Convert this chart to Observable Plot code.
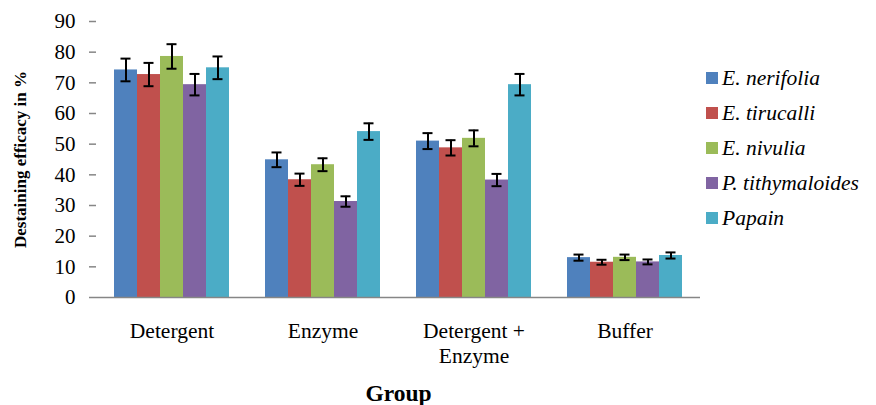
<!DOCTYPE html>
<html>
<head>
<meta charset="utf-8">
<script src="https://cdn.jsdelivr.net/npm/d3@7"></script>
<script src="https://cdn.jsdelivr.net/npm/@observablehq/plot@0.6"></script>
<style>
  html, body { margin: 0; padding: 0; background: #fff; }
  #wrap { position: relative; width: 876px; height: 405px; }
  #legend { position: absolute; left: 706px; top: 0; font-family: "Liberation Serif", "Times New Roman", Times, serif; font-style: italic; font-size: 21.5px; color: #000; }
  .item { position: absolute; left: 0; white-space: nowrap; display: flex; align-items: center; height: 24px; }
  .sw { width: 12px; height: 12px; margin-right: 4px; flex: none; }
  svg text { font-family: "Liberation Serif", "Times New Roman", Times, serif; }
</style>
</head>
<body>
<div id="wrap"><div id="legend"></div></div>
<script>
const groups = ["Detergent", "Enzyme", "Detergent +\nEnzyme", "Buffer"];
const series = ["E. nerifolia", "E. tirucalli", "E. nivulia", "P. tithymaloides", "Papain"];
const colors = ["#4F81BD", "#C0504D", "#9BBB59", "#8064A2", "#4BACC6"];
const yTicks = [0, 10, 20, 30, 40, 50, 60, 70, 80, 90];

const nerifolia = [74.2, 44.9, 51.0, 13.0];
const tirucalli = [72.7, 38.4, 48.8, 11.5];
const nivulia = [78.6, 43.3, 51.9, 13.1];
const tithymaloides = [69.4, 31.3, 38.3, 11.6];
const papain = [74.9, 54.1, 69.4, 13.7];

const nerifoliaErr = [3.7, 2.4, 2.6, 1.0];
const tirucalliErr = [3.8, 2.0, 2.5, 0.8];
const nivuliaErr = [4.0, 2.1, 2.6, 0.9];
const tithymaloidesErr = [3.5, 1.7, 2.0, 0.8];
const papainErr = [3.7, 2.7, 3.5, 1.0];

const values = [nerifolia, tirucalli, nivulia, tithymaloides, papain];
const errors = [nerifoliaErr, tirucalliErr, nivuliaErr, tithymaloidesErr, papainErr];

const data = [];
groups.forEach((g, gi) => {
  series.forEach((s, si) => {
    data.push({group: g, series: s, value: values[si][gi], err: errors[si][gi]});
  });
});

const axisColor = "#868686";
const serif = "'Liberation Serif', 'Times New Roman', Times, serif";

const chart = Plot.plot({
  width: 876,
  height: 405,
  marginLeft: 96,
  marginRight: 176,
  marginTop: 21,
  marginBottom: 108,
  style: {fontFamily: serif, background: "transparent", color: "#000"},
  fx: {domain: groups, padding: 0},
  x: {domain: series, paddingInner: 0, paddingOuter: 0.78, axis: null},
  y: {domain: [0, 90]},
  color: {domain: series, range: colors},
  marks: [
    Plot.barY(data, {fx: "group", x: "series", y: "value", fill: "series"}),
    Plot.ruleX(data, {fx: "group", x: "series", y1: d => d.value - d.err, y2: d => d.value + d.err, stroke: "#000", strokeWidth: 2}),
    Plot.tickY(data, {fx: "group", x: "series", y: d => d.value + d.err, insetLeft: 6.5, insetRight: 6.5, stroke: "#000", strokeWidth: 2}),
    Plot.tickY(data, {fx: "group", x: "series", y: d => d.value - d.err, insetLeft: 6.5, insetRight: 6.5, stroke: "#000", strokeWidth: 2}),
    Plot.ruleY([0], {stroke: axisColor, strokeWidth: 1.5}),
    Plot.axisY({ticks: yTicks, tickSize: 7, tickPadding: 14, fontSize: 21, stroke: axisColor, strokeWidth: 1.5, fill: "#000", line: true, label: null}),
    Plot.axisY({ticks: [], tickSize: 0, label: "Destaining efficacy in %", labelAnchor: "center", labelArrow: "none", labelOffset: 83, fontSize: 17, fontWeight: "bold", fill: "#000"}),
    Plot.axisFx({anchor: "bottom", tickSize: 0, tickPadding: 23, fontSize: 21.5, lineHeight: 1.15, fill: "#000", label: null}),
    Plot.axisFx({anchor: "bottom", ticks: [], tickSize: 0, label: "Group", labelAnchor: "center", labelArrow: "none", labelOffset: 103, fontSize: 23.5, fontWeight: "bold", fill: "#000"})
  ]
});

const wrap = document.getElementById("wrap");
wrap.insertBefore(chart, wrap.firstChild);

const legend = document.getElementById("legend");
const legendY = [78, 113, 148, 183, 218];
series.forEach((s, i) => {
  const item = document.createElement("div");
  item.className = "item";
  item.style.top = (legendY[i] - 12) + "px";
  const sw = document.createElement("span");
  sw.className = "sw";
  sw.style.background = colors[i];
  const t = document.createElement("span");
  t.textContent = s;
  item.appendChild(sw);
  item.appendChild(t);
  legend.appendChild(item);
});
</script>
</body>
</html>
